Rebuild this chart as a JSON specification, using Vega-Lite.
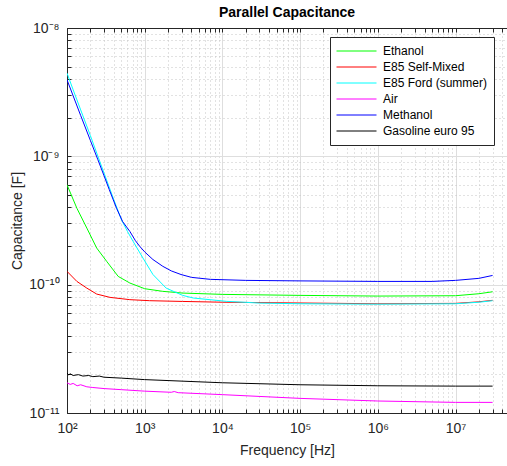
{
  "$schema": "https://vega.github.io/schema/vega-lite/v6.json",
  "width": 440,
  "height": 385,
  "autosize": "none",
  "padding": {"left": 67, "top": 28, "right": 0, "bottom": 53},
  "background": "white",
  "title": {"text": "Parallel Capacitance", "font": "Liberation Sans", "fontSize": 14, "fontWeight": "bold", "color": "black", "offset": 1, "anchor": "middle"},
  "config": {"view": {"stroke": "#262626", "strokeWidth": 1}, "font": "Liberation Sans"},
  "data": {"values": [
    {"s": "Gasoline euro 95", "f": 100, "c": 2.05e-11},
    {"s": "Gasoline euro 95", "f": 105, "c": 1.98e-11},
    {"s": "Gasoline euro 95", "f": 110, "c": 2.02e-11},
    {"s": "Gasoline euro 95", "f": 120, "c": 1.96e-11},
    {"s": "Gasoline euro 95", "f": 140, "c": 1.99e-11},
    {"s": "Gasoline euro 95", "f": 160, "c": 1.94e-11},
    {"s": "Gasoline euro 95", "f": 190, "c": 1.96e-11},
    {"s": "Gasoline euro 95", "f": 215, "c": 1.92e-11},
    {"s": "Gasoline euro 95", "f": 260, "c": 1.94e-11},
    {"s": "Gasoline euro 95", "f": 300, "c": 1.9e-11},
    {"s": "Gasoline euro 95", "f": 500, "c": 1.87e-11},
    {"s": "Gasoline euro 95", "f": 1000, "c": 1.82e-11},
    {"s": "Gasoline euro 95", "f": 10000, "c": 1.72e-11},
    {"s": "Gasoline euro 95", "f": 100000, "c": 1.66e-11},
    {"s": "Gasoline euro 95", "f": 1000000, "c": 1.63e-11},
    {"s": "Gasoline euro 95", "f": 10000000, "c": 1.62e-11},
    {"s": "Gasoline euro 95", "f": 30000000, "c": 1.62e-11},
    {"s": "Air", "f": 100, "c": 1.72e-11},
    {"s": "Air", "f": 110, "c": 1.67e-11},
    {"s": "Air", "f": 120, "c": 1.7e-11},
    {"s": "Air", "f": 135, "c": 1.63e-11},
    {"s": "Air", "f": 150, "c": 1.66e-11},
    {"s": "Air", "f": 180, "c": 1.6e-11},
    {"s": "Air", "f": 215, "c": 1.58e-11},
    {"s": "Air", "f": 300, "c": 1.55e-11},
    {"s": "Air", "f": 500, "c": 1.52e-11},
    {"s": "Air", "f": 1000, "c": 1.48e-11},
    {"s": "Air", "f": 2200, "c": 1.45e-11},
    {"s": "Air", "f": 2400, "c": 1.47e-11},
    {"s": "Air", "f": 2700, "c": 1.44e-11},
    {"s": "Air", "f": 10000, "c": 1.39e-11},
    {"s": "Air", "f": 100000, "c": 1.3e-11},
    {"s": "Air", "f": 1000000, "c": 1.24e-11},
    {"s": "Air", "f": 10000000, "c": 1.21e-11},
    {"s": "Air", "f": 30000000, "c": 1.21e-11},
    {"s": "E85 Self-Mixed", "f": 100, "c": 1.27e-10},
    {"s": "E85 Self-Mixed", "f": 134, "c": 1.06e-10},
    {"s": "E85 Self-Mixed", "f": 180, "c": 9.4e-11},
    {"s": "E85 Self-Mixed", "f": 241, "c": 8.45e-11},
    {"s": "E85 Self-Mixed", "f": 358, "c": 7.96e-11},
    {"s": "E85 Self-Mixed", "f": 644, "c": 7.64e-11},
    {"s": "E85 Self-Mixed", "f": 1160, "c": 7.5e-11},
    {"s": "E85 Self-Mixed", "f": 3080, "c": 7.4e-11},
    {"s": "E85 Self-Mixed", "f": 10000, "c": 7.3e-11},
    {"s": "E85 Self-Mixed", "f": 100000, "c": 7.2e-11},
    {"s": "E85 Self-Mixed", "f": 1000000, "c": 7.1e-11},
    {"s": "E85 Self-Mixed", "f": 10000000, "c": 7.15e-11},
    {"s": "E85 Self-Mixed", "f": 20000000, "c": 7.35e-11},
    {"s": "E85 Self-Mixed", "f": 30000000, "c": 7.55e-11},
    {"s": "Ethanol", "f": 100, "c": 6.0e-10},
    {"s": "Ethanol", "f": 134, "c": 3.94e-10},
    {"s": "Ethanol", "f": 180, "c": 2.76e-10},
    {"s": "Ethanol", "f": 241, "c": 1.93e-10},
    {"s": "Ethanol", "f": 324, "c": 1.52e-10},
    {"s": "Ethanol", "f": 456, "c": 1.16e-10},
    {"s": "Ethanol", "f": 644, "c": 1.03e-10},
    {"s": "Ethanol", "f": 1000, "c": 9.3e-11},
    {"s": "Ethanol", "f": 1710, "c": 8.87e-11},
    {"s": "Ethanol", "f": 3080, "c": 8.6e-11},
    {"s": "Ethanol", "f": 10000, "c": 8.4e-11},
    {"s": "Ethanol", "f": 100000, "c": 8.25e-11},
    {"s": "Ethanol", "f": 1000000, "c": 8.15e-11},
    {"s": "Ethanol", "f": 10000000, "c": 8.2e-11},
    {"s": "Ethanol", "f": 20000000, "c": 8.5e-11},
    {"s": "Ethanol", "f": 30000000, "c": 8.8e-11},
    {"s": "E85 Ford (summer)", "f": 100, "c": 4.45e-9},
    {"s": "E85 Ford (summer)", "f": 120, "c": 3.3e-9},
    {"s": "E85 Ford (summer)", "f": 150, "c": 2.3e-9},
    {"s": "E85 Ford (summer)", "f": 200, "c": 1.45e-9},
    {"s": "E85 Ford (summer)", "f": 250, "c": 1.0e-9},
    {"s": "E85 Ford (summer)", "f": 300, "c": 7.4e-10},
    {"s": "E85 Ford (summer)", "f": 400, "c": 4.6e-10},
    {"s": "E85 Ford (summer)", "f": 503, "c": 3.2e-10},
    {"s": "E85 Ford (summer)", "f": 600, "c": 2.6e-10},
    {"s": "E85 Ford (summer)", "f": 710, "c": 2.17e-10},
    {"s": "E85 Ford (summer)", "f": 951, "c": 1.61e-10},
    {"s": "E85 Ford (summer)", "f": 1276, "c": 1.2e-10},
    {"s": "E85 Ford (summer)", "f": 1890, "c": 9.4e-11},
    {"s": "E85 Ford (summer)", "f": 3080, "c": 8.25e-11},
    {"s": "E85 Ford (summer)", "f": 4220, "c": 7.87e-11},
    {"s": "E85 Ford (summer)", "f": 11350, "c": 7.41e-11},
    {"s": "E85 Ford (summer)", "f": 30000, "c": 7.19e-11},
    {"s": "E85 Ford (summer)", "f": 100000, "c": 7.1e-11},
    {"s": "E85 Ford (summer)", "f": 1000000, "c": 7.05e-11},
    {"s": "E85 Ford (summer)", "f": 10000000, "c": 7.1e-11},
    {"s": "E85 Ford (summer)", "f": 20000000, "c": 7.3e-11},
    {"s": "E85 Ford (summer)", "f": 30000000, "c": 7.5e-11},
    {"s": "Methanol", "f": 100, "c": 3.95e-9},
    {"s": "Methanol", "f": 120, "c": 2.96e-9},
    {"s": "Methanol", "f": 150, "c": 2.08e-9},
    {"s": "Methanol", "f": 200, "c": 1.33e-9},
    {"s": "Methanol", "f": 250, "c": 9.4e-10},
    {"s": "Methanol", "f": 300, "c": 7.05e-10},
    {"s": "Methanol", "f": 350, "c": 5.5e-10},
    {"s": "Methanol", "f": 434, "c": 3.94e-10},
    {"s": "Methanol", "f": 520, "c": 3.1e-10},
    {"s": "Methanol", "f": 644, "c": 2.6e-10},
    {"s": "Methanol", "f": 760, "c": 2.2e-10},
    {"s": "Methanol", "f": 863, "c": 1.99e-10},
    {"s": "Methanol", "f": 1000, "c": 1.8e-10},
    {"s": "Methanol", "f": 1276, "c": 1.57e-10},
    {"s": "Methanol", "f": 1710, "c": 1.39e-10},
    {"s": "Methanol", "f": 2200, "c": 1.28e-10},
    {"s": "Methanol", "f": 2930, "c": 1.2e-10},
    {"s": "Methanol", "f": 4000, "c": 1.14e-10},
    {"s": "Methanol", "f": 7000, "c": 1.1e-10},
    {"s": "Methanol", "f": 20000, "c": 1.08e-10},
    {"s": "Methanol", "f": 100000, "c": 1.07e-10},
    {"s": "Methanol", "f": 1000000, "c": 1.06e-10},
    {"s": "Methanol", "f": 5000000, "c": 1.06e-10},
    {"s": "Methanol", "f": 10000000, "c": 1.08e-10},
    {"s": "Methanol", "f": 20000000, "c": 1.12e-10},
    {"s": "Methanol", "f": 30000000, "c": 1.18e-10}
  ]},
  "layer": [
    {
      "mark": {"type": "line", "strokeWidth": 1, "clip": true},
      "encoding": {
        "x": {
          "field": "f", "type": "quantitative",
          "scale": {"type": "log", "domain": [100, 46000000], "nice": false},
          "axis": {
            "title": "Frequency [Hz]",
            "titleFont": "Liberation Sans", "titleFontSize": 14, "titleFontWeight": "normal", "titleColor": "#262626", "titlePadding": 8,
            "values": [100,200,300,400,500,600,700,800,900,1000,2000,3000,4000,5000,6000,7000,8000,9000,10000,20000,30000,40000,50000,60000,70000,80000,90000,100000,200000,300000,400000,500000,600000,700000,800000,900000,1000000,2000000,3000000,4000000,5000000,6000000,7000000,8000000,9000000,10000000,20000000,30000000,40000000],
            "labelExpr": "abs(log(datum.value)/LN10 - round(log(datum.value)/LN10)) < 0.001 ? '10' + ['⁰','¹','²','³','⁴','⁵','⁶','⁷','⁸','⁹'][round(log(datum.value)/LN10)] : ''",
            "labelFont": "Liberation Sans", "labelFontSize": 14, "labelColor": "#262626", "labelOverlap": false, "labelFlush": false, "labelPadding": 12,
            "domainColor": "#262626", "domainWidth": 1,
            "ticks": true, "tickColor": "#262626", "tickWidth": 1, "tickSize": -4,
            "grid": true,
            "gridColor": {"condition": {"test": "abs(log(datum.value)/LN10 - round(log(datum.value)/LN10)) < 0.001", "value": "#dedede"}, "value": "#c4c4c4"},
            "gridDash": {"condition": {"test": "abs(log(datum.value)/LN10 - round(log(datum.value)/LN10)) < 0.001", "value": []}, "value": [1, 3]}
          }
        },
        "y": {
          "field": "c", "type": "quantitative",
          "scale": {"type": "log", "domain": [1e-11, 1e-8], "nice": false},
          "axis": {
            "title": "Capacitance [F]",
            "titleFont": "Liberation Sans", "titleFontSize": 14, "titleFontWeight": "normal", "titleColor": "#262626", "titlePadding": 4,
            "values": [1e-11,2e-11,3e-11,4e-11,5e-11,6e-11,7e-11,8e-11,9e-11,1e-10,2e-10,3e-10,4e-10,5e-10,6e-10,7e-10,8e-10,9e-10,1e-9,2e-9,3e-9,4e-9,5e-9,6e-9,7e-9,8e-9,9e-9,1e-8],
            "labelExpr": "abs(log(datum.value)/LN10 - round(log(datum.value)/LN10)) < 0.001 ? (datum.value > 5e-9 ? '10⁻⁸' : datum.value > 5e-10 ? '10⁻⁹' : datum.value > 5e-11 ? '10⁻¹⁰' : '10⁻¹¹') : ''",
            "labelFont": "Liberation Sans", "labelFontSize": 14, "labelColor": "#262626", "labelOverlap": false, "labelFlush": false, "labelPadding": 12,
            "domainColor": "#262626", "domainWidth": 1,
            "ticks": true, "tickColor": "#262626", "tickWidth": 1, "tickSize": -4,
            "grid": true,
            "gridColor": {"condition": {"test": "abs(log(datum.value)/LN10 - round(log(datum.value)/LN10)) < 0.001", "value": "#dedede"}, "value": "#c4c4c4"},
            "gridDash": {"condition": {"test": "abs(log(datum.value)/LN10 - round(log(datum.value)/LN10)) < 0.001", "value": []}, "value": [1, 3]}
          }
        },
        "color": {
          "field": "s", "type": "nominal",
          "scale": {
            "domain": ["Ethanol", "E85 Self-Mixed", "E85 Ford (summer)", "Air", "Methanol", "Gasoline euro 95"],
            "range": ["#00ff00", "#ff0000", "#00ffff", "#ff00ff", "#0000ff", "#000000"]
          },
          "legend": {
            "orient": "none", "legendX": 263, "legendY": 9, "title": null,
            "strokeColor": "#262626", "fillColor": "white", "padding": 6, "cornerRadius": 0,
            "labelFont": "Liberation Sans", "labelFontSize": 12, "labelColor": "black", "labelOffset": 6,
            "symbolType": "stroke", "symbolSize": 1600, "symbolStrokeWidth": 1,
            "clipHeight": 16, "rowPadding": 0
          }
        }
      }
    },
    {
      "mark": {"type": "line", "strokeOpacity": 0},
      "encoding": {
        "x": {
          "field": "f", "type": "quantitative",
          "axis": {
            "orient": "top", "title": null, "labels": false, "grid": false, "domain": true,
            "values": [100,200,300,400,500,600,700,800,900,1000,2000,3000,4000,5000,6000,7000,8000,9000,10000,20000,30000,40000,50000,60000,70000,80000,90000,100000,200000,300000,400000,500000,600000,700000,800000,900000,1000000,2000000,3000000,4000000,5000000,6000000,7000000,8000000,9000000,10000000,20000000,30000000,40000000],
            "domainColor": "#262626", "tickColor": "#262626", "ticks": true, "tickSize": -4
          }
        },
        "y": {"field": "c", "type": "quantitative"},
        "detail": {"field": "s"}
      }
    }
  ],
  "resolve": {"axis": {"x": "independent"}}
}
